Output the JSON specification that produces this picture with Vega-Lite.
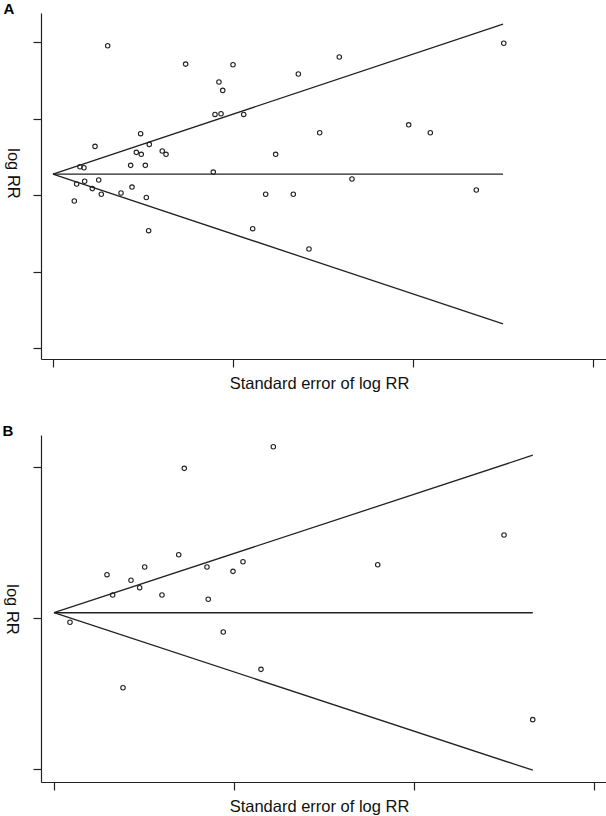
{
  "$schema": "https://vega.github.io/schema/vega-lite/v6.json",
  "padding": {"left": 2, "top": 2, "right": 0, "bottom": 0},
  "background": "white",
  "config": {
    "view": {"stroke": null},
    "font": "Liberation Sans",
    "axis": {
      "labels": false,
      "grid": false,
      "ticks": true,
      "tickSize": 8,
      "tickColor": "#222",
      "domainColor": "#222",
      "domainWidth": 1.2,
      "tickWidth": 1.2,
      "titleFont": "Liberation Sans",
      "titleFontSize": 16.5,
      "titleFontWeight": "normal",
      "titleColor": "#111"
    },
    "title": {"font": "Liberation Sans", "fontSize": 15, "fontWeight": "bold", "anchor": "start", "frame": "bounds", "color": "#000"}
  },
  "spacing": 32,
  "datasets": {
    "linesA": [
      {"line": "upper", "se": 0, "logrr": 0.137},
      {"line": "upper", "se": 0.5, "logrr": 1.117},
      {"line": "mid", "se": 0, "logrr": 0.137},
      {"line": "mid", "se": 0.5, "logrr": 0.137},
      {"line": "lower", "se": 0, "logrr": 0.137},
      {"line": "lower", "se": 0.5, "logrr": -0.843}
    ],
    "pointsA": [
      {"se": 0.0608, "logrr": 0.976},
      {"se": 0.1474, "logrr": 0.856},
      {"se": 0.2, "logrr": 0.852},
      {"se": 0.1844, "logrr": 0.739},
      {"se": 0.1886, "logrr": 0.684},
      {"se": 0.2726, "logrr": 0.791},
      {"se": 0.3181, "logrr": 0.902},
      {"se": 0.5008, "logrr": 0.992},
      {"se": 0.18, "logrr": 0.527},
      {"se": 0.1867, "logrr": 0.531},
      {"se": 0.2119, "logrr": 0.527},
      {"se": 0.0974, "logrr": 0.401},
      {"se": 0.0467, "logrr": 0.318},
      {"se": 0.107, "logrr": 0.331},
      {"se": 0.0926, "logrr": 0.279},
      {"se": 0.0981, "logrr": 0.266},
      {"se": 0.1214, "logrr": 0.288},
      {"se": 0.1256, "logrr": 0.266},
      {"se": 0.2474, "logrr": 0.266},
      {"se": 0.2963, "logrr": 0.407},
      {"se": 0.3952, "logrr": 0.459},
      {"se": 0.4192, "logrr": 0.407},
      {"se": 0.03, "logrr": 0.185},
      {"se": 0.0344, "logrr": 0.178},
      {"se": 0.0863, "logrr": 0.194},
      {"se": 0.1026, "logrr": 0.194},
      {"se": 0.1781, "logrr": 0.15},
      {"se": 0.0263, "logrr": 0.072},
      {"se": 0.0352, "logrr": 0.09},
      {"se": 0.0508, "logrr": 0.098},
      {"se": 0.0437, "logrr": 0.042},
      {"se": 0.0537, "logrr": 0.005},
      {"se": 0.0756, "logrr": 0.013},
      {"se": 0.0878, "logrr": 0.052},
      {"se": 0.1037, "logrr": -0.016},
      {"se": 0.0237, "logrr": -0.039},
      {"se": 0.1063, "logrr": -0.233},
      {"se": 0.2219, "logrr": -0.22},
      {"se": 0.2363, "logrr": 0.005},
      {"se": 0.267, "logrr": 0.005},
      {"se": 0.2844, "logrr": -0.353},
      {"se": 0.3322, "logrr": 0.105},
      {"se": 0.4703, "logrr": 0.033}
    ],
    "linesB": [
      {"line": "upper", "se": 0, "logrr": 0.033},
      {"line": "upper", "se": 0.532, "logrr": 1.076},
      {"line": "mid", "se": 0, "logrr": 0.033},
      {"line": "mid", "se": 0.532, "logrr": 0.033},
      {"line": "lower", "se": 0, "logrr": 0.033},
      {"line": "lower", "se": 0.532, "logrr": -1.01}
    ],
    "pointsB": [
      {"se": 0.2437, "logrr": 1.132},
      {"se": 0.1448, "logrr": 0.989},
      {"se": 0.1386, "logrr": 0.417},
      {"se": 0.1008, "logrr": 0.336},
      {"se": 0.0589, "logrr": 0.285},
      {"se": 0.0856, "logrr": 0.248},
      {"se": 0.0952, "logrr": 0.199},
      {"se": 0.0652, "logrr": 0.15},
      {"se": 0.12, "logrr": 0.15},
      {"se": 0.17, "logrr": 0.336},
      {"se": 0.1989, "logrr": 0.307},
      {"se": 0.21, "logrr": 0.371},
      {"se": 0.1714, "logrr": 0.122},
      {"se": 0.3597, "logrr": 0.351},
      {"se": 0.5, "logrr": 0.548},
      {"se": 0.0178, "logrr": -0.03},
      {"se": 0.1881, "logrr": -0.095},
      {"se": 0.0767, "logrr": -0.464},
      {"se": 0.23, "logrr": -0.342},
      {"se": 0.5319, "logrr": -0.675}
    ]
  },
  "vconcat": [
    {
      "title": {"text": "A", "offset": -4},
      "width": 565,
      "height": 346,
      "encoding": {
        "x": {"field": "se", "type": "quantitative", "scale": {"domain": [-0.0133, 0.6144], "nice": false, "zero": false},
              "axis": {"values": [0, 0.2, 0.4, 0.6], "title": "Standard error of log RR", "titleX": 278, "titleY": 24, "titleBaseline": "middle", "titleAlign": "center"}},
        "y": {"field": "logrr", "type": "quantitative", "scale": {"domain": [-1.072, 1.19], "nice": false, "zero": false},
              "axis": {"values": [-1, -0.5, 0, 0.5, 1], "title": "log RR", "titleAngle": 90, "titleX": -29, "titleY": 160, "titleBaseline": "middle", "titleAlign": "center"}}
      },
      "layer": [
        {"data": {"name": "linesA"}, "mark": {"type": "line", "color": "#222", "strokeWidth": 1.3},
         "encoding": {"detail": {"field": "line"}}},
        {"data": {"name": "pointsA"}, "mark": {"type": "point", "shape": "circle", "filled": false, "color": "#222", "size": 20, "strokeWidth": 1.1, "opacity": 1}}
      ]
    },
    {
      "title": {"text": "B", "offset": -4},
      "width": 565,
      "height": 347,
      "encoding": {
        "x": {"field": "se", "type": "quantitative", "scale": {"domain": [-0.0144, 0.6133], "nice": false, "zero": false},
              "axis": {"values": [0, 0.2, 0.4, 0.6], "title": "Standard error of log RR", "titleX": 278, "titleY": 24, "titleBaseline": "middle", "titleAlign": "center"}},
        "y": {"field": "logrr", "type": "quantitative", "scale": {"domain": [-1.088, 1.21], "nice": false, "zero": false},
              "axis": {"values": [-1, 0, 1], "title": "log RR", "titleAngle": 90, "titleX": -30, "titleY": 174, "titleBaseline": "middle", "titleAlign": "center"}}
      },
      "layer": [
        {"data": {"name": "linesB"}, "mark": {"type": "line", "color": "#222", "strokeWidth": 1.3},
         "encoding": {"detail": {"field": "line"}}},
        {"data": {"name": "pointsB"}, "mark": {"type": "point", "shape": "circle", "filled": false, "color": "#222", "size": 20, "strokeWidth": 1.1, "opacity": 1}}
      ]
    }
  ]
}
